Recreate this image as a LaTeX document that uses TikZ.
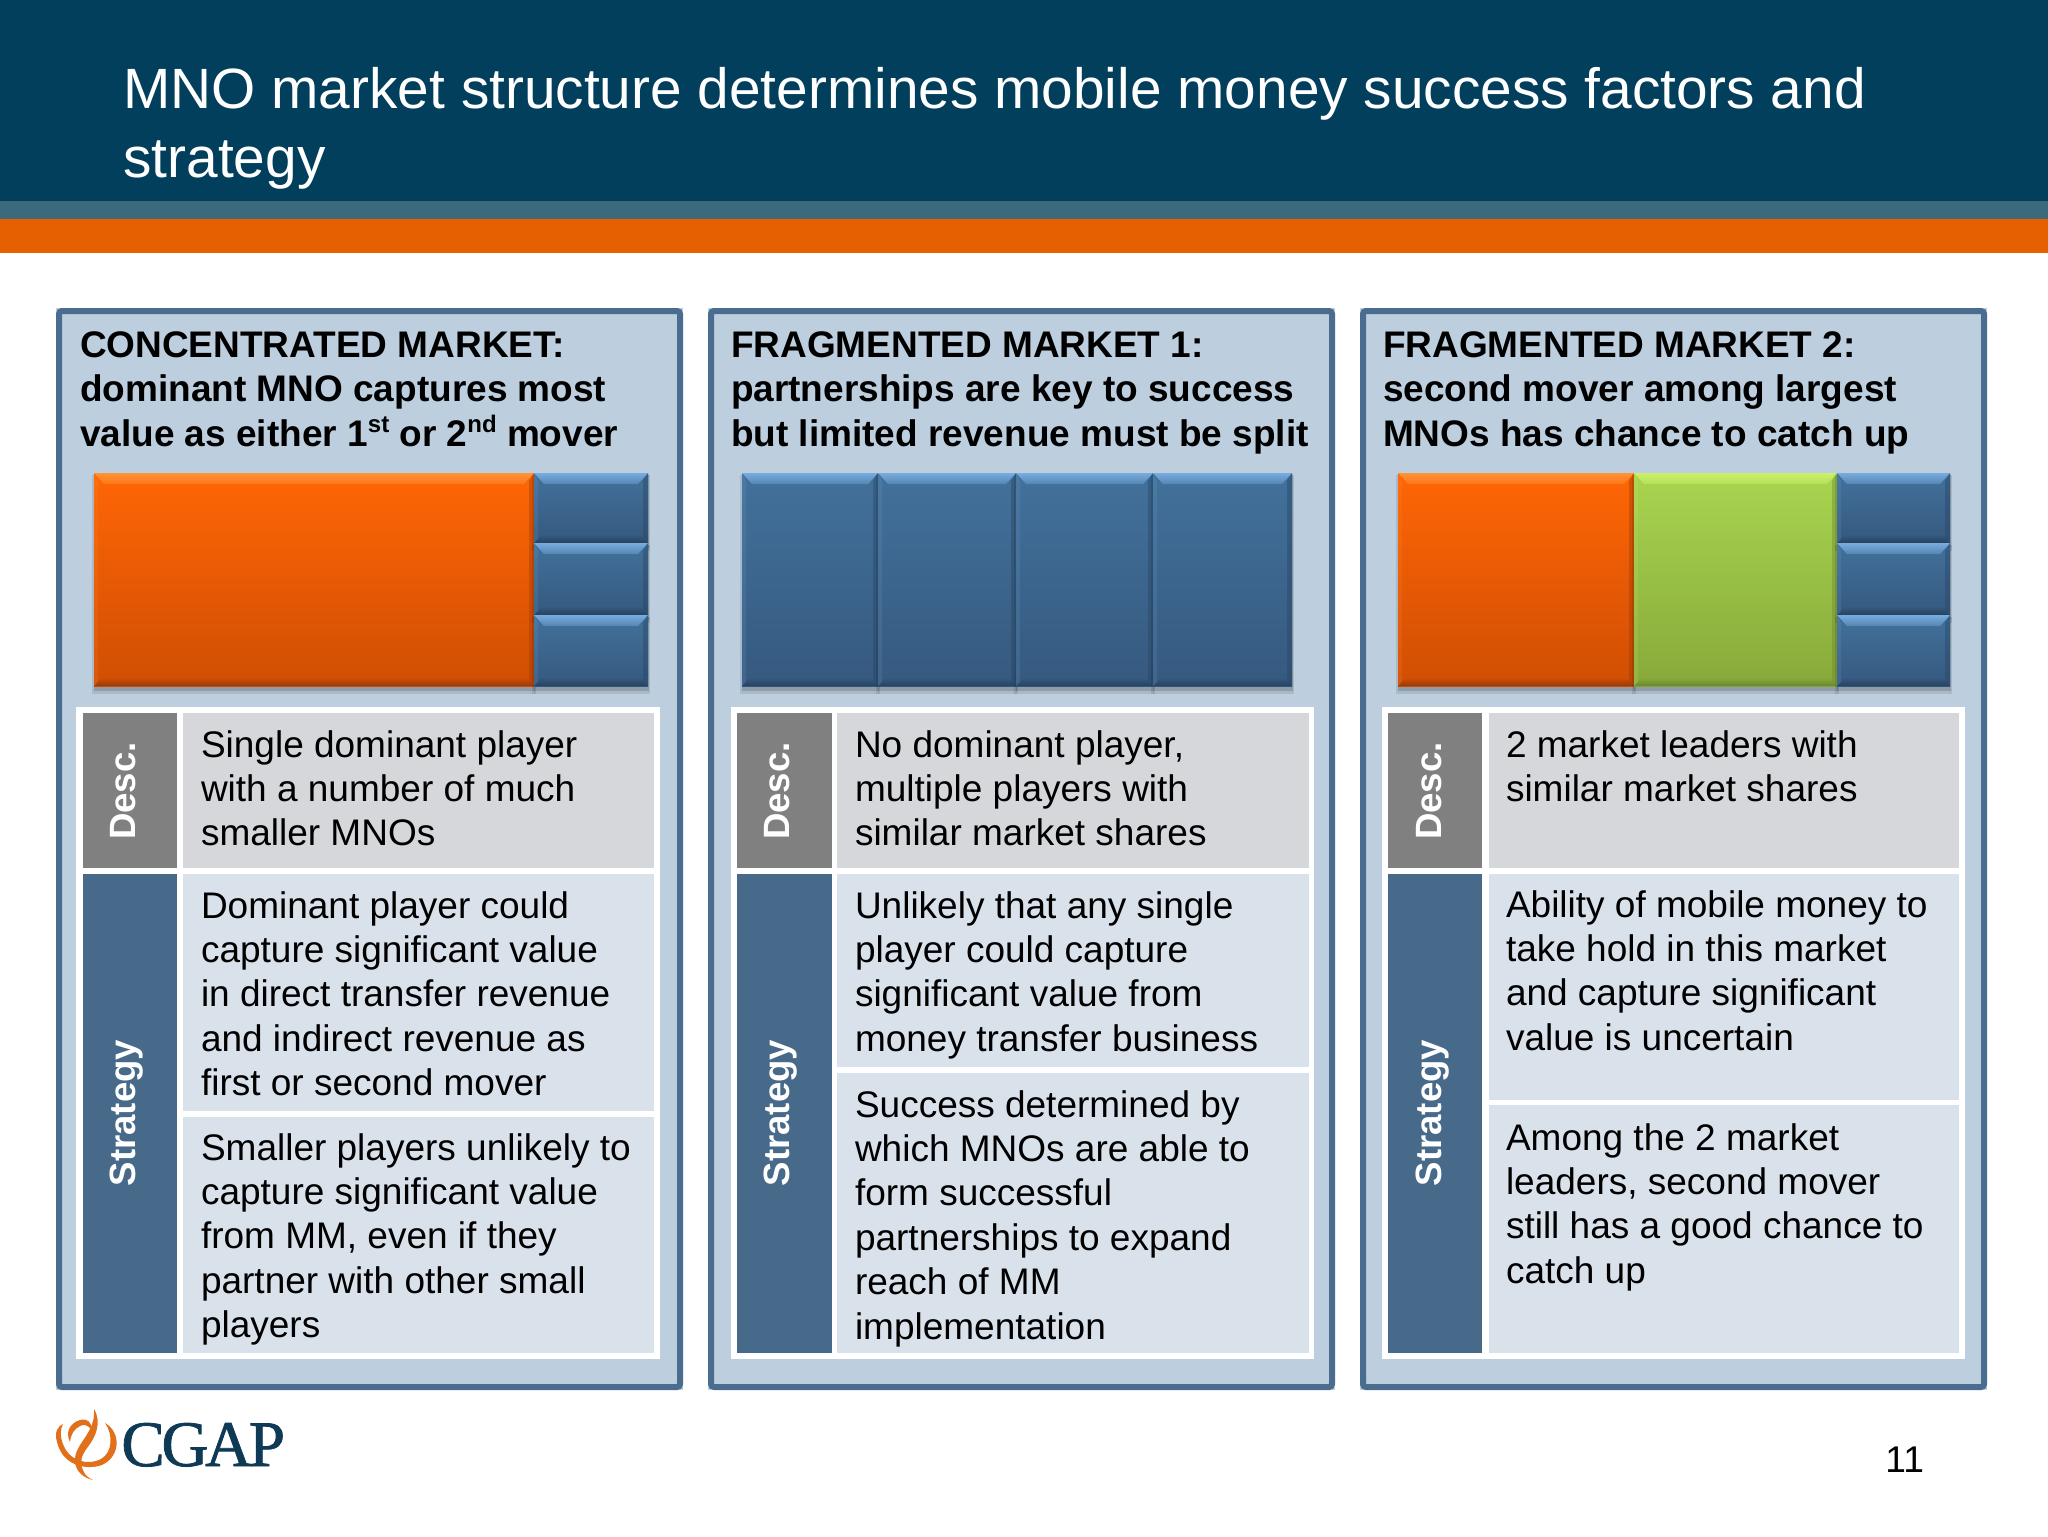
\documentclass[tikz,border=0pt]{standalone}
\usepackage{fontspec}
\setmainfont{Liberation Sans}
\newfontfamily\logofont[FakeBold=1.2]{Liberation Serif}
\definecolor{hdr}{HTML}{023F5C}
\definecolor{strip}{HTML}{3B6A7D}
\definecolor{orangebar}{HTML}{E65F00}
\definecolor{panelbg}{HTML}{BDCFDF}
\definecolor{panelline}{HTML}{4A6D8F}
\definecolor{labblue}{HTML}{47698A}
\definecolor{labgrey}{HTML}{808080}
\definecolor{cellgrey}{HTML}{D6D7DB}
\definecolor{cellblue}{HTML}{D9E1EB}
\definecolor{logoblue}{HTML}{0F3A55}
\definecolor{logoor}{HTML}{E2701A}
\newcommand{\bevbox}[8]{%
  \fill[black,opacity=.10] (#1-2,#2+2) rectangle (#3+2,#4+8);
  \fill[black,opacity=.15] (#1,#2+2) rectangle (#3+1,#4+5);
  \shade[top color=#5,bottom color=#6] (#1,#2) rectangle (#3,#4);
  \shade[top color=#7,bottom color=#7!35!#5] (#1,#2) -- (#3,#2) -- (#3-10,#2+11) -- (#1+10,#2+11) -- cycle;
  \shade[top color=#6,bottom color=#8] (#1,#4) -- (#3,#4) -- (#3-7,#4-8) -- (#1+7,#4-8) -- cycle;
  \fill[#8,opacity=.40] (#3,#2) -- (#3,#4) -- (#3-5,#4-5) -- (#3-5,#2+8) -- cycle;
  \fill[#7,opacity=.15] (#1,#2) -- (#1,#4) -- (#1+4,#4-4) -- (#1+4,#2+8) -- cycle;
}
\newcommand{\orbox}[4]{\bevbox{#1}{#2}{#3}{#4}{bxorT}{bxorB}{bxorL}{bxorD}}
\newcommand{\blbox}[4]{\bevbox{#1}{#2}{#3}{#4}{bxblT}{bxblB}{bxblL}{bxblD}}
\newcommand{\grbox}[4]{\bevbox{#1}{#2}{#3}{#4}{bxgrT}{bxgrB}{bxgrL}{bxgrD}}
\definecolor{bxorT}{HTML}{FF6606}\definecolor{bxorB}{HTML}{D04E04}\definecolor{bxorL}{HTML}{FF9436}\definecolor{bxorD}{HTML}{983A08}
\definecolor{bxblT}{HTML}{42719B}\definecolor{bxblB}{HTML}{36597F}\definecolor{bxblL}{HTML}{78ACDF}\definecolor{bxblD}{HTML}{264360}
\definecolor{bxgrT}{HTML}{A8D550}\definecolor{bxgrB}{HTML}{88A93A}\definecolor{bxgrL}{HTML}{CCF068}\definecolor{bxgrD}{HTML}{6A862C}
\newcommand{\lineblock}[1]{\parbox[t]{330pt}{\fontsize{18.5pt}{22.2pt}\selectfont\raggedright #1}}
\newcommand{\headblock}[1]{\parbox[t]{330pt}{\fontsize{18.5pt}{22.3pt}\selectfont\bfseries\raggedright #1}}
\newcommand{\supr}[1]{\raisebox{.38em}{\fontsize{12pt}{12pt}\selectfont\bfseries #1}}
\tikzset{
  x=0.5pt,y=-0.5pt,
  txt/.style={anchor=base west,inner sep=0pt,outer sep=0pt,text=black},
  vlab/.style={rotate=90,anchor=base,inner sep=0pt,text=white,font=\fontsize{18.3pt}{22pt}\selectfont\bfseries},
}
\newcommand{\panelframe}[4]{% x0, x1 panel; table x0 x1
  \fill[panelbg] (#1,308) rectangle (#2,1390);
  \draw[panelline,line width=3pt,rounded corners=1.5pt] (#1+3,311) rectangle (#2-3,1387);
  \fill[white] (#3,707) rectangle (#4,1359);
}
\begin{document}
\begin{tikzpicture}
\useasboundingbox (0,0) rectangle (2048,1536);
\fill[white] (0,0) rectangle (2048,1536);
\fill[hdr] (0,0) rectangle (2048,201);
\fill[strip] (0,201) rectangle (2048,219);
\fill[orangebar] (0,219) rectangle (2048,253);
\node[anchor=base west,inner sep=0pt,text=white] (title) at (123,109)
  {\parbox[t]{900pt}{\fontsize{28.4pt}{34.3pt}\selectfont\raggedright MNO market structure determines mobile money success factors and\\ strategy}};

% panel 1
\panelframe{56}{683}{76}{660}
\node[txt] (h1) at (80,357) {\headblock{CONCENTRATED MARKET:\\dominant MNO captures most\\value as either 1\supr{st} or 2\supr{nd} mover}};
\orbox{94}{473}{534}{686}
\blbox{534}{473}{648}{543}
\blbox{534}{543}{648}{615}
\blbox{534}{615}{648}{686}
\fill[labgrey] (83,713) rectangle (177,868);
\fill[cellgrey] (183,713) rectangle (654,868);
\fill[labblue] (83,874) rectangle (177,1353);
\fill[cellblue] (183,874) rectangle (654,1111);
\fill[cellblue] (183,1117) rectangle (654,1353);
\node[vlab] (d1) at (135,791) {Desc.};
\node[vlab] (s1) at (135,1113) {Strategy};
\node[txt] (t11) at (201,757) {\lineblock{Single dominant player\\with a number of much\\smaller MNOs}};
\node[txt] (t12) at (201,918) {\lineblock{Dominant player could\\capture significant value\\in direct transfer revenue\\and indirect revenue as\\first or second mover}};
\node[txt] (t13) at (201,1160) {\lineblock{Smaller players unlikely to\\capture significant value\\from MM, even if they\\partner with other small\\players}};

% panel 2
\panelframe{708}{1335}{731}{1314}
\node[txt] (h2) at (731,357) {\headblock{FRAGMENTED MARKET 1:\\partnerships are key to success\\but limited revenue must be split}};
\blbox{742}{473}{878}{686}
\blbox{878}{473}{1016}{686}
\blbox{1016}{473}{1153}{686}
\blbox{1153}{473}{1292}{686}
\fill[labgrey] (737,713) rectangle (832,868);
\fill[cellgrey] (837,713) rectangle (1309,868);
\fill[labblue] (737,874) rectangle (832,1353);
\fill[cellblue] (837,874) rectangle (1309,1067);
\fill[cellblue] (837,1073) rectangle (1309,1353);
\node[vlab] (d2) at (789,791) {Desc.};
\node[vlab] (s2) at (789,1113) {Strategy};
\node[txt] (t21) at (855,757) {\lineblock{No dominant player,\\multiple players with\\similar market shares}};
\node[txt] (t22) at (855,918) {\lineblock{Unlikely that any single\\player could capture\\significant value from\\money transfer business}};
\node[txt] (t23) at (855,1117) {\lineblock{Success determined by\\which MNOs are able to\\form successful\\partnerships to expand\\reach of MM\\implementation}};

% panel 3
\panelframe{1360}{1987}{1382}{1965}
\node[txt] (h3) at (1383,357) {\headblock{FRAGMENTED MARKET 2:\\second mover among largest\\MNOs has chance to catch up}};
\orbox{1398}{473}{1634}{686}
\grbox{1634}{473}{1837}{686}
\blbox{1837}{473}{1950}{543}
\blbox{1837}{543}{1950}{615}
\blbox{1837}{615}{1950}{686}
\fill[labgrey] (1388,713) rectangle (1482,868);
\fill[cellgrey] (1489,713) rectangle (1959,868);
\fill[labblue] (1388,874) rectangle (1482,1353);
\fill[cellblue] (1489,874) rectangle (1959,1100);
\fill[cellblue] (1489,1105) rectangle (1959,1353);
\node[vlab] (d3) at (1441,791) {Desc.};
\node[vlab] (s3) at (1441,1113) {Strategy};
\node[txt] (t31) at (1506,757) {\lineblock{2 market leaders with\\similar market shares}};
\node[txt] (t32) at (1506,917) {\lineblock{Ability of mobile money to\\take hold in this market\\and capture significant\\value is uncertain}};
\node[txt] (t33) at (1506,1150) {\lineblock{Among the 2 market\\leaders, second mover\\still has a good chance to\\catch up}};

% footer
\node[anchor=base west,inner sep=0pt,text=black,font=\fontsize{18.6pt}{22pt}\selectfont] (pg) at (1885,1472) {11};
\node[anchor=base west,inner sep=0pt,text=logoblue] (logo) at (121,1466) {\logofont\fontsize{32.5pt}{33pt}\selectfont\addfontfeature{LetterSpace=-5}CGAP};
% swirl
\begin{scope}[xshift=-1pt]
\fill[logoor] (107,1423) .. controls (123,1432) and (123,1456) .. (104,1465) .. controls (90,1470) and (65,1467) .. (59,1442) .. controls (56,1432) and (60,1426) .. (65,1424) .. controls (62,1430) and (62,1436) .. (65,1444) .. controls (71,1461) and (90,1466) .. (103,1459) .. controls (115,1452) and (115,1434) .. (107,1423) -- cycle;
\fill[logoor] (96,1409) .. controls (104,1422) and (98,1437) .. (89,1448) .. controls (84,1455) and (81,1462) .. (85,1470) .. controls (87,1476) and (91,1478) .. (95,1480) .. controls (86,1478) and (78,1472) .. (77,1462) .. controls (76,1452) and (83,1444) .. (88,1436) .. controls (93,1428) and (97,1420) .. (96,1409) -- cycle;
\fill[logoor] (72,1442) .. controls (67,1432) and (72,1423) .. (82,1420) .. controls (89,1418) and (94,1422) .. (93,1429) .. controls (90,1425) and (85,1424) .. (82,1426) .. controls (76,1429) and (73,1434) .. (72,1442) -- cycle;
\end{scope}
\end{tikzpicture}
\end{document}
